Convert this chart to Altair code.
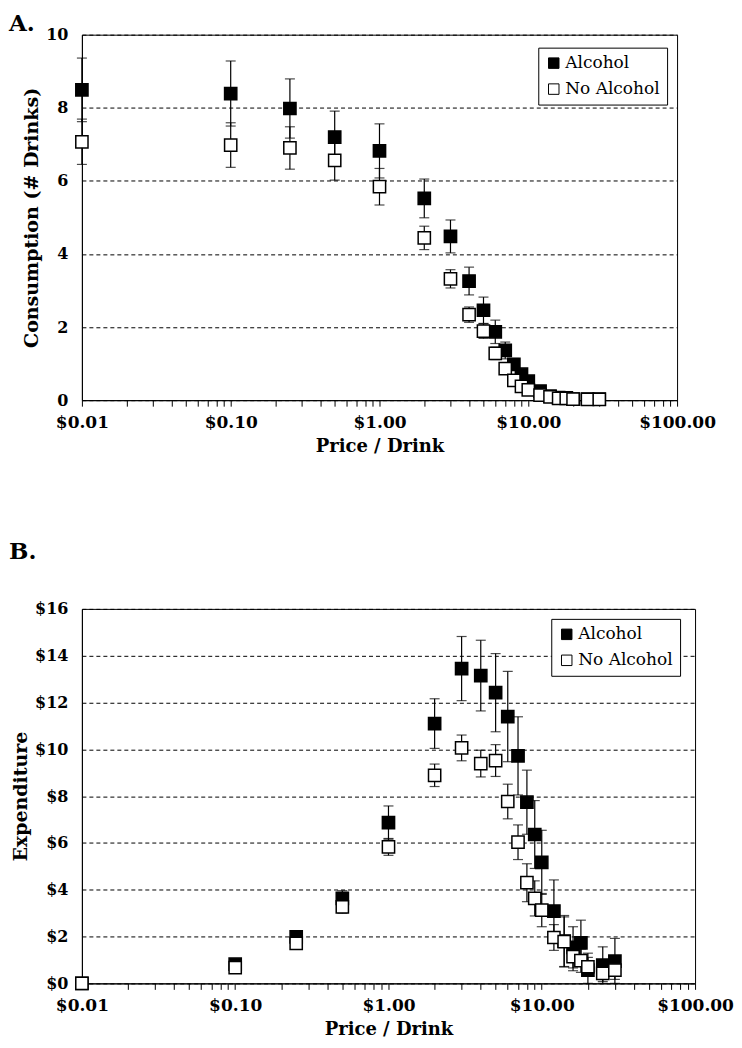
import altair as alt
import pandas as pd

# ---------------- data ----------------
prices = [0.01, 0.1, 0.25, 0.5, 1, 2, 3, 4, 5, 6, 7, 8, 9, 10, 12, 14, 16, 18, 20, 25, 30]
series_names = ["Alcohol", "No Alcohol"]

# Panel A: consumption (# drinks), mean and error
cons_alcohol = [8.49, 8.39, 7.98, 7.20, 6.82, 5.52, 4.48, 3.26, 2.46, 1.87, 1.36, 0.98, 0.71, 0.52,
                0.25, 0.11, 0.07, 0.06, 0.03, 0.03, 0.03]
cons_noalc = [7.07, 6.98, 6.90, 6.56, 5.84, 4.44, 3.32, 2.34, 1.89, 1.28, 0.86, 0.54, 0.38, 0.28,
              0.14, 0.09, 0.05, 0.05, 0.03, 0.02, 0.02]
cons_alcohol_err = [0.87, 0.89, 0.81, 0.71, 0.74, 0.53, 0.45, 0.38, 0.36, 0.32, 0.23, 0.16, 0.12, 0.10,
                    0.06, 0.04, 0.03, 0.03, 0.02, 0.02, 0.02]
cons_noalc_err = [0.62, 0.61, 0.58, 0.54, 0.50, 0.32, 0.25, 0.21, 0.20, 0.17, 0.11, 0.08, 0.06, 0.05,
                  0.04, 0.03, 0.02, 0.02, 0.02, 0.01, 0.01]

# Panel B: expenditure ($), mean and error
exp_alcohol = [0.0, 0.82, 1.99, 3.63, 6.87, 11.10, 13.45, 13.15, 12.42, 11.40, 9.72, 7.74, 6.36, 5.17,
               3.09, 1.80, 1.54, 1.73, 0.57, 0.78, 0.95]
exp_noalc = [0.0, 0.67, 1.71, 3.27, 5.83, 8.89, 10.06, 9.39, 9.52, 7.77, 6.03, 4.30, 3.63, 3.13,
             1.96, 1.78, 1.14, 0.97, 0.71, 0.43, 0.57]
exp_alcohol_err = [0.0, 0.09, 0.20, 0.33, 0.71, 1.06, 1.37, 1.51, 1.67, 1.93, 1.67, 1.37, 1.45, 1.37,
                   1.33, 1.10, 0.88, 0.97, 0.72, 0.78, 0.97]
exp_noalc_err = [0.0, 0.06, 0.15, 0.27, 0.36, 0.48, 0.55, 0.57, 0.68, 0.74, 0.74, 0.81, 0.75, 0.71,
                 0.55, 1.06, 0.60, 0.50, 0.40, 0.35, 0.40]

x_tick_values = [m * 10.0 ** e for e in range(-2, 2) for m in range(1, 10)] + [100.0]
cons_ticks = [0, 2, 4, 6, 8, 10]
exp_ticks = [0, 2, 4, 6, 8, 10, 12, 14, 16]

FONT = "DejaVu Serif"


def make_table(a_vals, a_err, n_vals, n_err):
    rows = []
    for name, vals, errs in [(series_names[0], a_vals, a_err), (series_names[1], n_vals, n_err)]:
        for p, v, e in zip(prices, vals, errs):
            rows.append({"price": p, "series": name, "value": v,
                         "lo": max(v - e, 0), "hi": v + e, "has_err": e > 0})
    return pd.DataFrame(rows)


def panel(df, ymax, yticks, ytitle, ylabel_expr, w, h, letter, letter_dx, letter_dy,
          legend_x, legend_y):
    xscale = alt.Scale(type="log", domain=[0.01, 100], nice=False)
    yscale = alt.Scale(domain=[0, ymax], nice=False)
    xaxis = alt.Axis(values=x_tick_values, grid=False, tickSize=6, tickColor="black",
                     domainColor="black", labelFont=FONT, labelFontWeight="bold",
                     labelFontSize=17, labelColor="black", labelPadding=8,
                     labelExpr="abs(log(datum.value)/LN10 - round(log(datum.value)/LN10)) < 0.001 ? '$' + format(datum.value, '.2f') : ''",
                     labelOverlap=False, labelFlush=False,
                     title="Price / Drink", titleFont=FONT, titleFontWeight="bold",
                     titleFontSize=18, titleColor="black", titlePadding=7)
    yaxis = alt.Axis(values=yticks, grid=True, gridDash=[4, 3], gridColor="black",
                     gridOpacity=1, gridWidth=1, ticks=False, domainColor="black",
                     labelFont=FONT, labelFontWeight="bold", labelFontSize=16,
                     labelColor="black", labelPadding=14, labelExpr=ylabel_expr,
                     title=ytitle, titleFont=FONT, titleFontWeight="bold",
                     titleFontSize=19, titleColor="black", titlePadding=4)

    base = alt.Chart(df)
    err_df = base.transform_filter("datum.has_err")
    rules = err_df.mark_rule(color="black", strokeWidth=1.2).encode(
        x=alt.X("price:Q", scale=xscale, axis=xaxis),
        y=alt.Y("lo:Q", scale=yscale, axis=yaxis),
        y2="hi:Q",
    )
    cap_hi = err_df.mark_tick(color="black", orient="horizontal", size=10, thickness=1.2).encode(
        x=alt.X("price:Q", scale=xscale), y=alt.Y("hi:Q", scale=yscale))
    cap_lo = err_df.mark_tick(color="black", orient="horizontal", size=10, thickness=1.2).encode(
        x=alt.X("price:Q", scale=xscale), y=alt.Y("lo:Q", scale=yscale))
    squares = base.mark_square(size=150, stroke="black", strokeWidth=1.5, opacity=1).encode(
        x=alt.X("price:Q", scale=xscale),
        y=alt.Y("value:Q", scale=yscale),
        fill=alt.Fill("series:N", scale=alt.Scale(domain=series_names, range=["black", "white"]),
                      legend=alt.Legend(title=None, orient="none", legendX=legend_x,
                                        legendY=legend_y, strokeColor="black", fillColor="white",
                                        padding=7, symbolType="square", symbolSize=110,
                                        symbolStrokeColor="black", symbolStrokeWidth=1,
                                        labelFont=FONT, labelFontSize=17, labelColor="black",
                                        rowPadding=8, labelOffset=3, cornerRadius=0)),
    )
    label = base.mark_text(font=FONT, fontWeight="bold", fontSize=23, align="left",
                           baseline="top", color="black").encode(
        x=alt.value(letter_dx), y=alt.value(letter_dy), text=alt.value(letter)
    ).transform_filter("datum.price == 0.01 && datum.series == 'Alcohol'")
    return alt.layer(rules, cap_hi, cap_lo, squares, label).properties(width=w, height=h)


dfA = make_table(cons_alcohol, cons_alcohol_err, cons_noalc, cons_noalc_err)
dfB = make_table(exp_alcohol, exp_alcohol_err, exp_noalc, exp_noalc_err)

chartA = panel(dfA, 10, cons_ticks, "Consumption (# Drinks)", "datum.value", 596, 366,
               "A.", -73, -22, 457, 13)
chartB = panel(dfB, 16, exp_ticks, "Expenditure", "'$' + datum.value", 614, 375,
               "B.", -73, -68, 470, 10)

chart = alt.vconcat(chartA, chartB, spacing=84).resolve_legend(fill="independent").configure(
    padding={"top": 3, "left": 0, "right": 0, "bottom": 0}, background="white"
).configure_view(stroke="black", strokeWidth=1)

chart.save("out.html", embed_options={"renderer": "svg", "actions": False})
